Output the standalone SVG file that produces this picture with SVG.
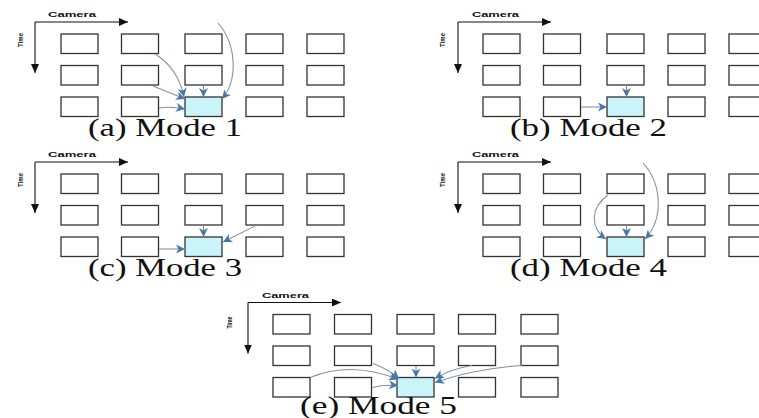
<svg xmlns="http://www.w3.org/2000/svg" width="759" height="418" viewBox="0 0 759 418">
<defs>
<style>
.box{fill:#ffffff;stroke:#333333;stroke-width:1.3}
.hl{fill:#c8f4fa;stroke:#333333;stroke-width:1.3}
.ax{fill:none;stroke:#111111;stroke-width:1.1}
.cn{fill:none;stroke:#7f93a8;stroke-width:1.1}
.lab{font-family:"Liberation Sans",Arial,sans-serif;font-weight:bold;font-size:8px;fill:#111111}
.cap{font-family:"Liberation Serif","Times New Roman",serif;font-size:25px;fill:#111111}
</style>
<marker id="ah" markerUnits="userSpaceOnUse" markerWidth="10" markerHeight="9" refX="9" refY="4.5" orient="auto">
<path d="M0,0 L9,4.5 L0,9 L2.5,4.5 Z" fill="#4a77a8"/>
</marker>
<marker id="axh" markerUnits="userSpaceOnUse" markerWidth="10" markerHeight="8" refX="9" refY="4" orient="auto">
<path d="M0,0 L9,4 L0,8 Z" fill="#111111"/>
</marker>
</defs>
<rect width="759" height="418" fill="#ffffff"/>

<!-- Panel a -->
<g id="panel-a">
<g id="a-axes">
<path class="ax" d="M35,22 H128" marker-end="url(#axh)"/>
<path class="ax" d="M35,22 V73" marker-end="url(#axh)"/>
<text class="lab" x="48" y="17" textLength="48" lengthAdjust="spacingAndGlyphs">Camera</text>
<text class="lab" transform="translate(23,40) rotate(-90)" text-anchor="middle" textLength="14" lengthAdjust="spacingAndGlyphs">Time</text>
</g>
<g id="a-r1c1"><rect class="box" x="61" y="34" width="37" height="19.5"/></g>
<g id="a-r1c2"><rect class="box" x="121.5" y="34" width="37" height="19.5"/></g>
<g id="a-r1c3"><rect class="box" x="185" y="34" width="37" height="19.5"/></g>
<g id="a-r1c4"><rect class="box" x="246" y="34" width="37" height="19.5"/></g>
<g id="a-r1c5"><rect class="box" x="307" y="34" width="37" height="19.5"/></g>
<g id="a-r2c1"><rect class="box" x="61" y="65.5" width="37" height="19.5"/></g>
<g id="a-r2c2"><rect class="box" x="121.5" y="65.5" width="37" height="19.5"/></g>
<g id="a-r2c3"><rect class="box" x="185" y="65.5" width="37" height="19.5"/></g>
<g id="a-r2c4"><rect class="box" x="246" y="65.5" width="37" height="19.5"/></g>
<g id="a-r2c5"><rect class="box" x="307" y="65.5" width="37" height="19.5"/></g>
<g id="a-r3c1"><rect class="box" x="61" y="97" width="37" height="19.5"/></g>
<g id="a-r3c2"><rect class="box" x="121.5" y="97" width="37" height="19.5"/></g>
<g id="a-r3c3"><rect class="hl" x="185" y="97" width="37" height="19.5"/></g>
<g id="a-r3c4"><rect class="box" x="246" y="97" width="37" height="19.5"/></g>
<g id="a-r3c5"><rect class="box" x="307" y="97" width="37" height="19.5"/></g>
<text class="cap" x="88" y="136" textLength="154" lengthAdjust="spacingAndGlyphs">(a) Mode 1</text>
</g>

<!-- Panel b -->
<g id="panel-b" transform="translate(422,0)">
<g id="b-axes">
<path class="ax" d="M36,22 H129" marker-end="url(#axh)"/>
<path class="ax" d="M36,22 V73" marker-end="url(#axh)"/>
<text class="lab" x="50" y="17" textLength="47" lengthAdjust="spacingAndGlyphs">Camera</text>
<text class="lab" transform="translate(23,40) rotate(-90)" text-anchor="middle" textLength="14" lengthAdjust="spacingAndGlyphs">Time</text>
</g>
<g id="b-r1c1"><rect class="box" x="61" y="34" width="37" height="19.5"/></g>
<g id="b-r1c2"><rect class="box" x="121.5" y="34" width="37" height="19.5"/></g>
<g id="b-r1c3"><rect class="box" x="185" y="34" width="37" height="19.5"/></g>
<g id="b-r1c4"><rect class="box" x="246" y="34" width="37" height="19.5"/></g>
<g id="b-r1c5"><rect class="box" x="307" y="34" width="37" height="19.5"/></g>
<g id="b-r2c1"><rect class="box" x="61" y="65.5" width="37" height="19.5"/></g>
<g id="b-r2c2"><rect class="box" x="121.5" y="65.5" width="37" height="19.5"/></g>
<g id="b-r2c3"><rect class="box" x="185" y="65.5" width="37" height="19.5"/></g>
<g id="b-r2c4"><rect class="box" x="246" y="65.5" width="37" height="19.5"/></g>
<g id="b-r2c5"><rect class="box" x="307" y="65.5" width="37" height="19.5"/></g>
<g id="b-r3c1"><rect class="box" x="61" y="97" width="37" height="19.5"/></g>
<g id="b-r3c2"><rect class="box" x="121.5" y="97" width="37" height="19.5"/></g>
<g id="b-r3c3"><rect class="hl" x="185" y="97" width="37" height="19.5"/></g>
<g id="b-r3c4"><rect class="box" x="246" y="97" width="37" height="19.5"/></g>
<g id="b-r3c5"><rect class="box" x="307" y="97" width="37" height="19.5"/></g>
<text class="cap" x="88" y="136" textLength="157" lengthAdjust="spacingAndGlyphs">(b) Mode 2</text>
</g>

<!-- Panel c -->
<g id="panel-c" transform="translate(0,140)">
<g id="c-axes">
<path class="ax" d="M35,22 H128" marker-end="url(#axh)"/>
<path class="ax" d="M35,22 V73" marker-end="url(#axh)"/>
<text class="lab" x="48" y="17" textLength="48" lengthAdjust="spacingAndGlyphs">Camera</text>
<text class="lab" transform="translate(23,40) rotate(-90)" text-anchor="middle" textLength="14" lengthAdjust="spacingAndGlyphs">Time</text>
</g>
<g id="c-r1c1"><rect class="box" x="61" y="34" width="37" height="19.5"/></g>
<g id="c-r1c2"><rect class="box" x="121.5" y="34" width="37" height="19.5"/></g>
<g id="c-r1c3"><rect class="box" x="185" y="34" width="37" height="19.5"/></g>
<g id="c-r1c4"><rect class="box" x="246" y="34" width="37" height="19.5"/></g>
<g id="c-r1c5"><rect class="box" x="307" y="34" width="37" height="19.5"/></g>
<g id="c-r2c1"><rect class="box" x="61" y="65.5" width="37" height="19.5"/></g>
<g id="c-r2c2"><rect class="box" x="121.5" y="65.5" width="37" height="19.5"/></g>
<g id="c-r2c3"><rect class="box" x="185" y="65.5" width="37" height="19.5"/></g>
<g id="c-r2c4"><rect class="box" x="246" y="65.5" width="37" height="19.5"/></g>
<g id="c-r2c5"><rect class="box" x="307" y="65.5" width="37" height="19.5"/></g>
<g id="c-r3c1"><rect class="box" x="61" y="97" width="37" height="19.5"/></g>
<g id="c-r3c2"><rect class="box" x="121.5" y="97" width="37" height="19.5"/></g>
<g id="c-r3c3"><rect class="hl" x="185" y="97" width="37" height="19.5"/></g>
<g id="c-r3c4"><rect class="box" x="246" y="97" width="37" height="19.5"/></g>
<g id="c-r3c5"><rect class="box" x="307" y="97" width="37" height="19.5"/></g>
<text class="cap" x="88" y="136" textLength="154" lengthAdjust="spacingAndGlyphs">(c) Mode 3</text>
</g>

<!-- Panel d -->
<g id="panel-d" transform="translate(422,140)">
<g id="d-axes">
<path class="ax" d="M36,22 H129" marker-end="url(#axh)"/>
<path class="ax" d="M36,22 V73" marker-end="url(#axh)"/>
<text class="lab" x="50" y="17" textLength="47" lengthAdjust="spacingAndGlyphs">Camera</text>
<text class="lab" transform="translate(23,40) rotate(-90)" text-anchor="middle" textLength="14" lengthAdjust="spacingAndGlyphs">Time</text>
</g>
<g id="d-r1c1"><rect class="box" x="61" y="34" width="37" height="19.5"/></g>
<g id="d-r1c2"><rect class="box" x="121.5" y="34" width="37" height="19.5"/></g>
<g id="d-r1c3"><rect class="box" x="185" y="34" width="37" height="19.5"/></g>
<g id="d-r1c4"><rect class="box" x="246" y="34" width="37" height="19.5"/></g>
<g id="d-r1c5"><rect class="box" x="307" y="34" width="37" height="19.5"/></g>
<g id="d-r2c1"><rect class="box" x="61" y="65.5" width="37" height="19.5"/></g>
<g id="d-r2c2"><rect class="box" x="121.5" y="65.5" width="37" height="19.5"/></g>
<g id="d-r2c3"><rect class="box" x="185" y="65.5" width="37" height="19.5"/></g>
<g id="d-r2c4"><rect class="box" x="246" y="65.5" width="37" height="19.5"/></g>
<g id="d-r2c5"><rect class="box" x="307" y="65.5" width="37" height="19.5"/></g>
<g id="d-r3c1"><rect class="box" x="61" y="97" width="37" height="19.5"/></g>
<g id="d-r3c2"><rect class="box" x="121.5" y="97" width="37" height="19.5"/></g>
<g id="d-r3c3"><rect class="hl" x="185" y="97" width="37" height="19.5"/></g>
<g id="d-r3c4"><rect class="box" x="246" y="97" width="37" height="19.5"/></g>
<g id="d-r3c5"><rect class="box" x="307" y="97" width="37" height="19.5"/></g>
<text class="cap" x="88" y="136" textLength="157" lengthAdjust="spacingAndGlyphs">(d) Mode 4</text>
</g>

<!-- Panel e -->
<g id="panel-e" transform="translate(212,280.5)">
<g id="e-axes">
<path class="ax" d="M36,22 H129" marker-end="url(#axh)"/>
<path class="ax" d="M36,22 V73" marker-end="url(#axh)"/>
<text class="lab" x="50" y="17" textLength="47" lengthAdjust="spacingAndGlyphs">Camera</text>
<text class="lab" transform="translate(20,42) rotate(-90)" text-anchor="middle" textLength="12" lengthAdjust="spacingAndGlyphs">Time</text>
</g>
<g id="e-r1c1"><rect class="box" x="61" y="34" width="37" height="19.5"/></g>
<g id="e-r1c2"><rect class="box" x="122.5" y="34" width="37" height="19.5"/></g>
<g id="e-r1c3"><rect class="box" x="185" y="34" width="37" height="19.5"/></g>
<g id="e-r1c4"><rect class="box" x="246.5" y="34" width="37" height="19.5"/></g>
<g id="e-r1c5"><rect class="box" x="309" y="34" width="37" height="19.5"/></g>
<g id="e-r2c1"><rect class="box" x="61" y="65.5" width="37" height="19.5"/></g>
<g id="e-r2c2"><rect class="box" x="122.5" y="65.5" width="37" height="19.5"/></g>
<g id="e-r2c3"><rect class="box" x="185" y="65.5" width="37" height="19.5"/></g>
<g id="e-r2c4"><rect class="box" x="246.5" y="65.5" width="37" height="19.5"/></g>
<g id="e-r2c5"><rect class="box" x="309" y="65.5" width="37" height="19.5"/></g>
<g id="e-r3c1"><rect class="box" x="61" y="97" width="37" height="19.5"/></g>
<g id="e-r3c2"><rect class="box" x="122.5" y="97" width="37" height="19.5"/></g>
<g id="e-r3c3"><rect class="hl" x="185" y="97" width="37" height="19.5"/></g>
<g id="e-r3c4"><rect class="box" x="246.5" y="97" width="37" height="19.5"/></g>
<g id="e-r3c5"><rect class="box" x="309" y="97" width="37" height="19.5"/></g>
<text class="cap" x="88" y="133.5" textLength="157" lengthAdjust="spacingAndGlyphs">(e) Mode 5</text>
</g>

<!-- Connectors -->
<g id="connectors">
<g id="conn-a">
<path class="cn" d="M203.5,85.5 V97" marker-end="url(#ah)"/>
<path class="cn" d="M159,108 Q170,106 185,109" marker-end="url(#ah)"/>
<path class="cn" d="M153,86 Q168,92 185,99" marker-end="url(#ah)"/>
<path class="cn" d="M155,54 Q178,68 184,97" marker-end="url(#ah)"/>
<path class="cn" d="M218,23 C237,45 238,80 222,99" marker-end="url(#ah)"/>
</g>
<g id="conn-b" transform="translate(422,0)">
<path class="cn" d="M204.5,85.5 V97" marker-end="url(#ah)"/>
<path class="cn" d="M159,107 H185" marker-end="url(#ah)"/>
</g>
<g id="conn-c" transform="translate(0,140)">
<path class="cn" d="M203.5,85.5 V97" marker-end="url(#ah)"/>
<path class="cn" d="M159,109 H185" marker-end="url(#ah)"/>
<path class="cn" d="M257,85 L223,102" marker-end="url(#ah)"/>
</g>
<g id="conn-d" transform="translate(422,140)">
<path class="cn" d="M204.5,85.5 V97" marker-end="url(#ah)"/>
<path class="cn" d="M186,55 C168,68 168,88 184,99" marker-end="url(#ah)"/>
<path class="cn" d="M221,23 C241,45 241,80 223,99" marker-end="url(#ah)"/>
</g>
<g id="conn-e" transform="translate(212,280.5)">
<path class="cn" d="M204,85.5 V97" marker-end="url(#ah)"/>
<path class="cn" d="M161,83 Q175,88 187,98" marker-end="url(#ah)"/>
<path class="cn" d="M98,97 Q140,80 186,99" marker-end="url(#ah)"/>
<path class="cn" d="M160,107 Q172,104 186,105" marker-end="url(#ah)"/>
<path class="cn" d="M260,85 Q240,88 223,98" marker-end="url(#ah)"/>
<path class="cn" d="M310,85 Q262,88 223,102" marker-end="url(#ah)"/>
</g>
</g>
</svg>
